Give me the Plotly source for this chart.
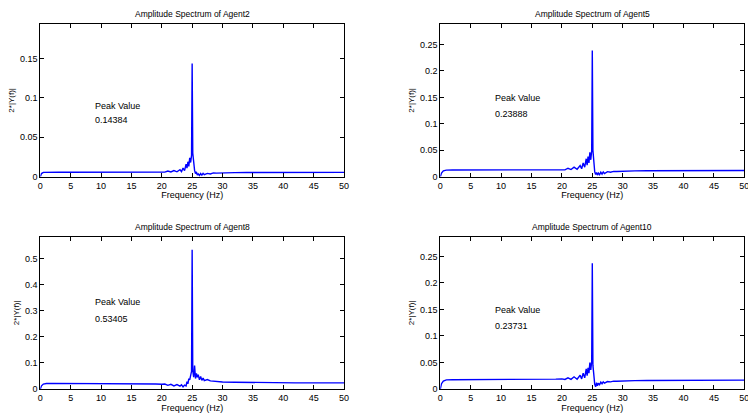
import plotly.graph_objects as go

# ---- data ----
freq = [0, 0.2, 0.5, 1,
        2, 3, 4, 5, 6, 7, 8, 9, 10, 11, 12, 13, 14, 15, 16, 17, 18, 19, 20,
        20.5, 21, 21.5, 22, 22.5, 23,
        23.25, 23.5, 23.75, 24,
        24.15, 24.3, 24.45, 24.6, 24.75, 24.9,
        25,
        25.1, 25.25, 25.4, 25.55, 25.7, 25.85,
        26, 26.2, 26.4, 26.6, 26.8, 27,
        27.5, 28, 28.5, 29, 30,
        32, 34, 36, 38, 40, 42, 44, 46, 48, 50]

agent2 = [0.0, 0.004, 0.0055, 0.0057,
          0.0057, 0.0057, 0.0057, 0.0057, 0.0057, 0.0058, 0.0058, 0.0058, 0.0058, 0.0058,
          0.0058, 0.0059, 0.006, 0.006, 0.0061, 0.0062, 0.0063, 0.0064, 0.0066,
          0.0058, 0.0072, 0.006, 0.0078, 0.0062, 0.0088,
          0.0065, 0.011, 0.0078, 0.016,
          0.011, 0.019, 0.013, 0.024, 0.018, 0.027,
          0.14384,
          0.03, 0.012, 0.008, 0.004, 0.006, 0.002,
          0.0035, 0.0015, 0.004, 0.002, 0.0042, 0.0025,
          0.0042, 0.0035, 0.0048, 0.0045, 0.005,
          0.0052, 0.0053, 0.0053, 0.0054, 0.0054, 0.0055, 0.0055, 0.0055, 0.0055, 0.0055]

agent5 = [0.0, 0.007, 0.011, 0.0125,
          0.0128, 0.0128, 0.0128, 0.0128, 0.0128, 0.0128, 0.0129, 0.0129, 0.013, 0.013,
          0.013, 0.0131, 0.0132, 0.0133, 0.0134, 0.0135, 0.0137, 0.0139, 0.0142,
          0.013, 0.016, 0.0135, 0.018, 0.014, 0.021,
          0.015, 0.026, 0.018, 0.034,
          0.022, 0.038, 0.026, 0.046, 0.032, 0.049,
          0.23888,
          0.05, 0.02, 0.009, 0.004, 0.008, 0.003,
          0.007, 0.004, 0.0085, 0.005, 0.009, 0.006,
          0.0095, 0.0085, 0.010, 0.0098, 0.0105,
          0.011, 0.0112, 0.0114, 0.0115, 0.0116, 0.0117, 0.0118, 0.0118, 0.0118, 0.0118]

agent8 = [0.0, 0.012, 0.019, 0.021,
          0.0215, 0.0215, 0.0215, 0.0215, 0.0215, 0.0215, 0.0214, 0.0214, 0.0213, 0.0212,
          0.0211, 0.021, 0.0208, 0.0205, 0.0202, 0.02, 0.0195, 0.019, 0.0185,
          0.019, 0.014, 0.018, 0.012, 0.017, 0.011,
          0.016, 0.008, 0.015, 0.012,
          0.028, 0.02, 0.04, 0.035, 0.06, 0.068,
          0.53405,
          0.07, 0.045, 0.09, 0.04, 0.06, 0.045,
          0.055, 0.035, 0.048, 0.033, 0.042, 0.032,
          0.036, 0.031, 0.030, 0.029, 0.027,
          0.026, 0.025, 0.0245, 0.024, 0.0238, 0.0236, 0.0235, 0.0235, 0.0234, 0.0234]

agent10 = [0.0, 0.01, 0.015, 0.0172,
           0.0175, 0.0175, 0.0175, 0.0176, 0.0176, 0.0176, 0.0177, 0.0177, 0.0177, 0.0178,
           0.0178, 0.0179, 0.018, 0.018, 0.0181, 0.0182, 0.0184, 0.0186, 0.019,
           0.018, 0.021, 0.0182, 0.023, 0.0185, 0.026,
           0.019, 0.03, 0.021, 0.038,
           0.025, 0.04, 0.03, 0.05, 0.036, 0.052,
           0.23731,
           0.045, 0.015, 0.009, 0.004, 0.012, 0.006,
           0.011, 0.008, 0.013, 0.01, 0.0135, 0.011,
           0.014, 0.0135, 0.0148, 0.0145, 0.0152,
           0.0158, 0.016, 0.0162, 0.0164, 0.0165, 0.0166, 0.0167, 0.0168, 0.0168, 0.0168]

agent_names = ["Agent2", "Agent5", "Agent8", "Agent10"]
series = [agent2, agent5, agent8, agent10]
peaks = [0.14384, 0.23888, 0.53405, 0.23731]
y_dticks = [0.05, 0.05, 0.1, 0.05]
x_ticks = [0, 5, 10, 15, 20, 25, 30, 35, 40, 45, 50]

# ---- layout geometry ----
W, H = 748, 413
x_domains = [[40.3 / W, 344 / W], [440.3 / W, 744.3 / W]]
y_domains = [[1 - 176.7 / H, 1 - 24 / H], [1 - 389 / H, 1 - 236.7 / H]]

FONT = "Liberation Sans, Arial, Helvetica, sans-serif"
fig = go.Figure()
layout = dict(
    width=W, height=H,
    margin=dict(l=0, r=0, t=0, b=0),
    paper_bgcolor="white", plot_bgcolor="white",
    showlegend=False,
    font=dict(family=FONT, size=9, color="black"),
)
annotations = []

for i, (name, ys, pk, dt) in enumerate(zip(agent_names, series, peaks, y_dticks)):
    row, col = divmod(i, 2)
    ax = "" if i == 0 else str(i + 1)
    fig.add_trace(go.Scatter(x=freq, y=ys, mode="lines",
                             line=dict(color="#0000ff", width=1.4),
                             xaxis="x" + ax, yaxis="y" + ax, name=name))
    common = dict(showline=True, linecolor="black", linewidth=1, mirror="ticks",
                  ticks="inside", ticklen=4, tickcolor="black", showgrid=False,
                  zeroline=False, automargin=False, ticklabeloverflow="allow",
                  tickfont=dict(family=FONT, size=9, color="black"))
    layout["xaxis" + ax] = dict(common, domain=x_domains[col], range=[0, 50],
                                tickvals=x_ticks, anchor="y" + ax,
                                title=dict(text="Frequency (Hz)", standoff=2,
                                           font=dict(family=FONT, size=9, color="black")))
    layout["yaxis" + ax] = dict(common, domain=y_domains[row], range=[0, pk + 0.05],
                                dtick=dt, tick0=0, anchor="x" + ax,
                                title=dict(text="2*|Y(f)|", standoff=4,
                                           font=dict(family=FONT, size=8, color="black")))
    # subplot title
    annotations.append(dict(text="Amplitude Spectrum of " + name, xref="paper", yref="paper",
                            x=sum(x_domains[col]) / 2, y=y_domains[row][1] + 10 / H,
                            xanchor="center", yanchor="middle", showarrow=False,
                            font=dict(family=FONT, size=8.5, color="black")))
    # peak texts
    xr = "x" + ax
    yr = "y" + ax
    annotations.append(dict(text="Peak Value", xref=xr, yref=yr, x=8.6, y=pk * 0.625,
                            xanchor="left", yanchor="middle", showarrow=False,
                            font=dict(family=FONT, size=9, color="black")))
    annotations.append(dict(text=f"{pk:.5g}", xref=xr, yref=yr, x=8.6, y=pk * 0.5,
                            xanchor="left", yanchor="middle", showarrow=False,
                            font=dict(family=FONT, size=9, color="black")))

layout["annotations"] = annotations
fig.update_layout(**layout)
fig.write_html("out.html")
